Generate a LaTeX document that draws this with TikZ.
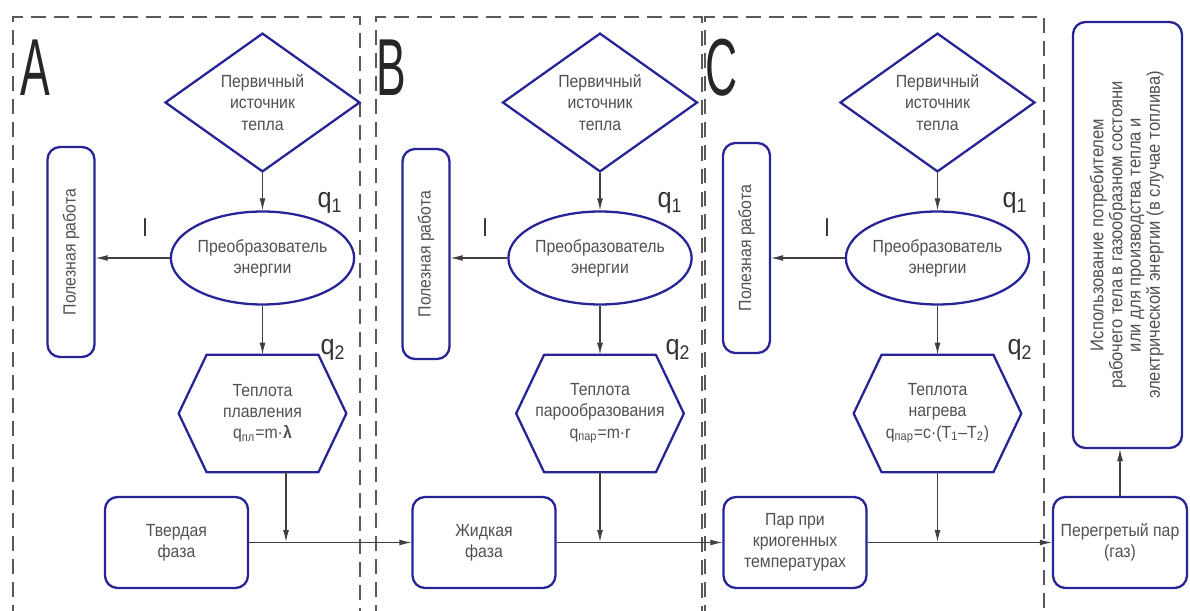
\documentclass[tikz,border=0pt]{standalone}
\usepackage{fontspec}
\setmainfont{Liberation Sans}[FakeStretch=0.9]
\newfontfamily\bigfont{Liberation Sans}[FakeStretch=0.55]
\usepackage{graphicx}
\usepackage{tikz}
\usetikzlibrary{arrows.meta,calc,positioning,shapes.geometric}
\usepackage{xcolor}
\definecolor{boxblue}{RGB}{38,36,150}
\definecolor{txtgray}{RGB}{80,80,80}

\begin{document}
\begin{tikzpicture}[
    font=\fontsize{10}{12}\selectfont,
    every node/.append style={text=txtgray,align=center},
    src/.style={diamond,draw=boxblue,line width=1.3pt,minimum width=3.9cm,minimum height=2.3cm,inner sep=0pt},
    conv/.style={ellipse,draw=boxblue,line width=1.3pt,minimum width=3.44cm,minimum height=1.86cm,inner sep=0pt},
    heat/.style={rectangle,minimum width=3.34cm,minimum height=2.34cm,inner sep=0pt},
    hexline/.style={draw=boxblue,line width=1.3pt,line join=round},
    work/.style={rectangle,rounded corners=2.5mm,draw=boxblue,line width=1.3pt,minimum width=0.94cm,minimum height=4.2cm,inner sep=0pt},
    phase/.style={rectangle,rounded corners=2.5mm,draw=boxblue,line width=1.3pt,minimum width=2.86cm,minimum height=1.82cm,inner sep=0pt},
    e/.style={-{Latex[length=2.4mm,width=1.2mm]},line width=0.6pt,black!75},
    frm/.style={dash pattern=on 3mm off 1.6mm,line width=0.6pt,black!65},
    qlbl/.style={font=\fontsize{16}{16}\selectfont,text=black!80},
    letter/.style={font=\bigfont\fontsize{46}{46}\selectfont,text=black!85}
  ]
    \useasboundingbox (0,0) rectangle (23.8,12.2);
    % dashed frames
    \draw[frm] (0.26,-0.2) -- (0.26,11.86) -- (7.2,11.86) -- (7.2,-0.2);
    \draw[frm] (7.52,-0.2) -- (7.52,11.86) -- (14.04,11.86) -- (14.04,-0.2);
    \draw[frm] (14.1,-0.2) -- (14.1,11.86) -- (20.88,11.86) -- (20.88,-0.2);
    \node[letter] (la) at (0.70,10.84) {A};
    \node[letter] (lb) at (7.82,10.84) {B};
    \node[letter] (lc) at (14.44,10.84) {C};
    % A
    \node[src] (s1) at (5.25,10.15) {Первичный\\источник\\тепла};
    \node[conv] (c1) at (5.25,7.04) {Преобразователь\\энергии};
    \node[heat] (h1) at (5.25,3.93) {Теплота\\плавления\\q\textsubscript{пл}=m·{\bfseries λ}};
    \node[work] (w1) at (1.42,7.16) {\rotatebox{90}{Полезная работа}};
    \node[phase] (f1) at (3.53,1.35) {Твердая\\фаза};
    % B
    \node[src] (s2) at (12.0,10.15) {Первичный\\источник\\тепла};
    \node[conv] (c2) at (12.0,7.04) {Преобразователь\\энергии};
    \node[heat] (h2) at (12.0,3.93) {Теплота\\парообразования\\q\textsubscript{пар}=m·r};
    \node[work] (w2) at (8.52,7.12) {\rotatebox{90}{Полезная работа}};
    \node[phase] (f2) at (9.68,1.35) {Жидкая\\фаза};
    % C
    \node[src] (s3) at (18.75,10.15) {Первичный\\источник\\тепла};
    \node[conv] (c3) at (18.75,7.04) {Преобразователь\\энергии};
    \node[heat] (h3) at (18.75,3.93) {Теплота\\нагрева\\q\textsubscript{пар}=c·(T\textsubscript{1}–T\textsubscript{2})};
    \node[work] (w3) at (14.93,7.24) {\rotatebox{90}{Полезная работа}};
    \node[phase] (f3) at (15.9,1.35) {Пар при\\криогенных\\температурах};
    % end
    \node[phase,minimum width=2.68cm] (f4) at (22.4,1.35) {Перегретый пар\\(газ)};
    \node[work,minimum width=2.18cm,minimum height=8.52cm,font=\fontsize{10.5}{13}\selectfont] (t) at (22.55,7.5)
      {\rotatebox{90}{\renewcommand{\arraystretch}{0.8}\begin{tabular}{@{}c@{}}Использование потребителем\\рабочего тела в газообразном состояни\\или для производства тепла и\\электрической энергии (в случае топлива)\end{tabular}}};
    % hexagon outlines
    \foreach \h in {h1,h2,h3}
      \draw[hexline] ($(\h.north west)+(0.56,0)$) -- ($(\h.north east)+(-0.56,0)$) -- (\h.east)
        -- ($(\h.south east)+(-0.56,0)$) -- ($(\h.south west)+(0.56,0)$) -- (\h.west) -- cycle;
    % labels
    \node[qlbl] (q11) at (6.6,8.14) {q\textsubscript{1}};
    \node[qlbl] (q12) at (13.4,8.14) {q\textsubscript{1}};
    \node[qlbl] (q13) at (20.3,8.14) {q\textsubscript{1}};
    \node[qlbl] (q21) at (6.66,5.2) {q\textsubscript{2}};
    \node[qlbl] (q22) at (13.56,5.2) {q\textsubscript{2}};
    \node[qlbl] (q23) at (20.4,5.2) {q\textsubscript{2}};
    \node[qlbl,font=\fontsize{14}{14}\selectfont] (l1) at (2.9,7.64) {l};
    \node[qlbl,font=\fontsize{14}{14}\selectfont] (l2) at (9.7,7.64) {l};
    \node[qlbl,font=\fontsize{14}{14}\selectfont] (l3) at (16.54,7.64) {l};
    \coordinate (j1) at (5.72,1.36);
    \coordinate (j2) at (12.0,1.36);
    \coordinate (j3) at (18.75,1.36);
    % connectors
    \draw[e] (s1)--(c1); \draw[e] (c1)--(h1); \draw[e] (c1.west)--(c1.west -| w1.east);
    \draw[e] (s2)--(c2); \draw[e] (c2)--(h2); \draw[e] (c2.west)--(c2.west -| w2.east);
    \draw[e] (s3)--(c3); \draw[e] (c3)--(h3); \draw[e] (c3.west)--(c3.west -| w3.east);
    \draw[e] (h1.south -| j1)--(j1); \draw[e] (h2)--(j2); \draw[e] (h3)--(j3);
    \draw[e] (f1)--(f2); \draw[e] (f2)--(f3); \draw[e] (f3)--(f4);
    \draw[e] (f4.north)--(f4.north |- t.south);
  \end{tikzpicture}
\end{document}
